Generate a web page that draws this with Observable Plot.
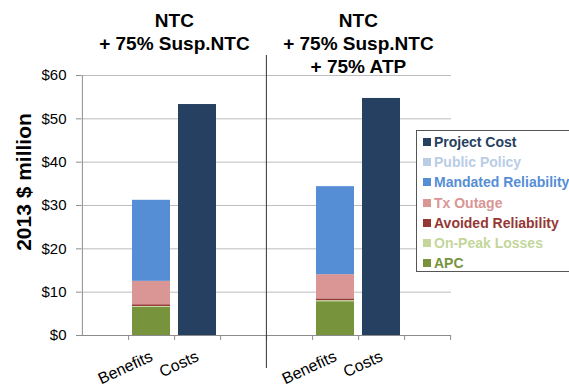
<!DOCTYPE html>
<html><head><meta charset="utf-8">
<script src="https://cdn.jsdelivr.net/npm/d3@7"></script>
<script src="https://cdn.jsdelivr.net/npm/@observablehq/plot@0.6"></script>
<style>
body{margin:0;background:#fff;font-family:Arial,"Liberation Sans",sans-serif;}
#wrap{position:relative;width:569px;height:390px;overflow:hidden;}
#legend{position:absolute;left:416px;top:130px;width:170px;height:142px;border:1px solid #555;background:#fff;box-sizing:border-box;padding:1px 0 0 6px;}
.item{display:flex;align-items:center;height:20.2px;font-weight:bold;font-size:14px;white-space:nowrap;}
.sw{width:8px;height:8px;margin-right:3px;flex:none;}
#ylabel{position:absolute;left:23px;top:182px;transform:translate(-50%,-50%) rotate(-90deg);font-weight:bold;font-size:21px;white-space:nowrap;color:#000;line-height:1;}
</style></head>
<body><div id="wrap"><div id="chart"></div><div id="ylabel"></div><div id="legend"></div></div>
<script>
// ---- data ----
const panels = ["NTC\n+ 75% Susp.NTC", "NTC\n+ 75% Susp.NTC\n+ 75% ATP"];
const slots = ["", "Benefits", "Costs", " "];
const barPanel = [0, 0, 1, 1];
const barCategory = ["Benefits", "Costs", "Benefits", "Costs"];
const series = ["APC", "On-Peak Losses", "Avoided Reliability", "Tx Outage", "Mandated Reliability", "Public Policy", "Project Cost"];
const colors = ["#77933C", "#C3D69B", "#953735", "#D99694", "#558ED5", "#B9CDE5", "#254061"];
const apc          = [6.5, 0, 7.8, 0];
const onPeakLosses = [0.2, 0, 0.25, 0];
const avoidedRel   = [0.4, 0, 0.4, 0];
const txOutage     = [5.4, 0, 5.6, 0];
const mandatedRel  = [18.7, 0, 20.3, 0];
const publicPolicy = [0, 0, 0, 0];
const projectCost  = [0, 53.3, 0, 54.7];
const yTicks = [0, 10, 20, 30, 40, 50, 60];
const yLabel = "2013 $ million";

// ---- build ----
const seriesValues = [apc, onPeakLosses, avoidedRel, txOutage, mandatedRel, publicPolicy, projectCost];
const key = (p, s) => p + "|" + s;
const domain = panels.flatMap((p, i) => slots.map(s => key(i, s)));
const data = [];
barPanel.forEach((p, b) => {
  series.forEach((s, j) => data.push({x: key(p, barCategory[b]), series: s, value: seriesValues[j][b]}));
});
const W = 569, H = 390, mL = 81, mR = 118, mT = 75, mB = 55;
const step = (W - mL - mR) / domain.length;
const labelKeys = domain.filter(d => d.split("|")[1].trim() !== "");

const chart = Plot.plot({
  width: W, height: H,
  marginLeft: mL, marginRight: mR, marginTop: mT, marginBottom: mB,
  style: {fontFamily: 'Arial, "Liberation Sans", sans-serif', color: "#000", background: "#fff"},
  x: {type: "band", domain, paddingInner: 0.17, paddingOuter: 0.085, axis: null},
  y: {domain: [0, 60], axis: null},
  color: {domain: series, range: colors},
  marks: [
    Plot.gridY(yTicks, {stroke: "#bdbdbd", strokeOpacity: 1}),
    Plot.barY(data, Plot.stackY({x: "x", y: "value", fill: "series"})),
    Plot.ruleY([0], {stroke: "#8c8c8c"}),
    Plot.ruleX([domain[0]], {dx: -step / 2, stroke: "#8c8c8c"}),
    Plot.axisY(yTicks, {tickSize: 5, stroke: "#8c8c8c", tickFormat: d => "$" + d, fontSize: 15, tickPadding: 10, label: null}),
    Plot.axisX(domain, {tickSize: 5, dx: step / 2, stroke: "#8c8c8c", tickFormat: () => "", label: null}),
    Plot.axisX(labelKeys, {tickSize: 0, tickRotate: -25, tickPadding: 20, fontSize: 16, tickFormat: d => d.split("|")[1], label: null}),
    Plot.ruleX([domain[4]], {dx: -step / 2, stroke: "#333", insetTop: -20, insetBottom: -33}),
    Plot.text(panels, {x: (d, i) => key(i, "Costs"), dx: -step / 2, frameAnchor: "top", dy: -65, lineAnchor: "top", lineHeight: 1.22, fontSize: 19, fontWeight: "bold", fill: "#000"})
  ]
});
document.getElementById("chart").append(chart);
document.getElementById("ylabel").textContent = yLabel;

const legend = document.getElementById("legend");
series.slice().reverse().forEach(s => {
  const c = colors[series.indexOf(s)];
  const it = document.createElement("div");
  it.className = "item";
  it.innerHTML = `<span class="sw" style="background:${c}"></span><span style="color:${c}">${s}</span>`;
  legend.append(it);
});
</script>
</body></html>
